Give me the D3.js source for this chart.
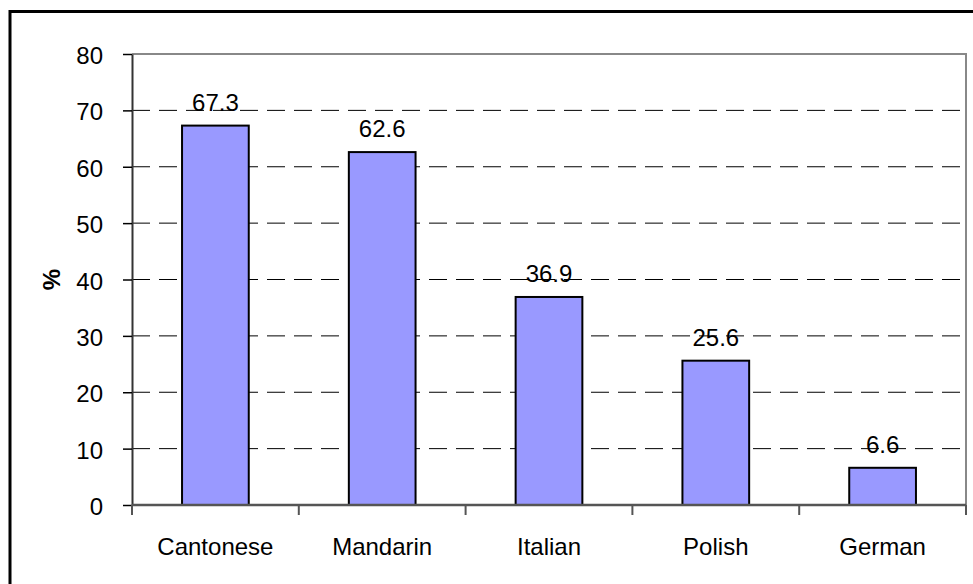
<!DOCTYPE html>
<html>
<head>
<meta charset="utf-8">
<script src="https://cdn.jsdelivr.net/npm/d3@7"></script>
<style>
  html, body { margin: 0; padding: 0; background: #fff; }
  svg { display: block; font-family: "Liberation Sans", Arial, sans-serif; }
</style>
</head>
<body>
<svg id="chart" width="973" height="584"></svg>
<script>
// Share of speakers by language (%)
const categories = ["Cantonese", "Mandarin", "Italian", "Polish", "German"];
const values = [67.3, 62.6, 36.9, 25.6, 6.6];
const yTicks = [0, 10, 20, 30, 40, 50, 60, 70, 80];
const yTitle = "%";

const svg = d3.select("#chart");
const W = 973, H = 584;
const plot = { left: 132, right: 966, top: 54, bottom: 505 };

svg.append("rect").attr("width", W).attr("height", H).attr("fill", "#fff");

// outer frame (runs past the right and bottom edges of the canvas)
svg.append("rect")
  .attr("x", 10).attr("y", 11.5)
  .attr("width", 1000).attr("height", 700)
  .attr("fill", "none").attr("stroke", "#000").attr("stroke-width", 3);

const x = d3.scaleBand().domain(categories)
  .range([plot.left, plot.right]).paddingInner(0.6).paddingOuter(0.3);
const xEdges = d3.scaleLinear().domain([0, categories.length])
  .range([plot.left, plot.right]);
const y = d3.scaleLinear().domain([0, 80]).range([plot.bottom, plot.top]);

// dashed gridlines
svg.append("g").selectAll("line")
  .data(yTicks.filter(t => t > 0 && t < 80))
  .join("line")
  .attr("x1", plot.left).attr("x2", plot.right)
  .attr("y1", d => y(d)).attr("y2", d => y(d))
  .attr("stroke", "#000").attr("stroke-width", 1)
  .attr("stroke-dasharray", "18,9");

// plot area border (top and right)
svg.append("path")
  .attr("d", `M${plot.left},${plot.top}H${plot.right}V${plot.bottom}`)
  .attr("fill", "none").attr("stroke", "#888").attr("stroke-width", 2);

// bars
svg.append("g").selectAll("rect")
  .data(values)
  .join("rect")
  .attr("x", (d, i) => x(categories[i]))
  .attr("width", x.bandwidth())
  .attr("y", d => y(d))
  .attr("height", d => y(0) - y(d))
  .attr("fill", "#9999ff")
  .attr("stroke", "#000").attr("stroke-width", 2);

// value labels
svg.append("g").selectAll("text")
  .data(values)
  .join("text")
  .attr("x", (d, i) => x(categories[i]) + x.bandwidth() / 2)
  .attr("y", d => y(d) - 15)
  .attr("text-anchor", "middle")
  .attr("font-size", 24)
  .attr("fill", "#000")
  .text(d => d.toFixed(1));

// y axis
const yAxis = svg.append("g")
  .attr("transform", `translate(${plot.left},0)`)
  .call(d3.axisLeft(y).tickValues(yTicks).tickSize(9).tickSizeOuter(0).tickPadding(20));
yAxis.select(".domain").attr("stroke", "#333").attr("stroke-width", 2);
yAxis.selectAll(".tick line").attr("stroke", "#000").attr("stroke-width", 1.5);
yAxis.selectAll(".tick text")
  .attr("font-size", 24).attr("fill", "#000")
  .attr("font-family", "Liberation Sans, Arial, sans-serif")
  .attr("dy", "0.4em");

// x axis line and category boundary ticks
svg.append("line")
  .attr("x1", plot.left).attr("x2", plot.right)
  .attr("y1", plot.bottom).attr("y2", plot.bottom)
  .attr("stroke", "#555").attr("stroke-width", 2.5);
svg.append("g").selectAll("line")
  .data(d3.range(categories.length + 1))
  .join("line")
  .attr("x1", d => xEdges(d)).attr("x2", d => xEdges(d))
  .attr("y1", plot.bottom).attr("y2", plot.bottom + 10)
  .attr("stroke", "#555").attr("stroke-width", 2);

// category labels
svg.append("g").selectAll("text")
  .data(categories)
  .join("text")
  .attr("x", d => x(d) + x.bandwidth() / 2)
  .attr("y", 555)
  .attr("text-anchor", "middle")
  .attr("font-size", 24)
  .attr("fill", "#000")
  .text(d => d);

// y axis title
svg.append("text")
  .attr("transform", `translate(52,${(plot.top + plot.bottom) / 2}) rotate(-90)`)
  .attr("text-anchor", "middle")
  .attr("dy", "0.35em")
  .attr("font-size", 24)
  .attr("font-weight", "bold")
  .attr("fill", "#000")
  .text(yTitle);
</script>
</body>
</html>
